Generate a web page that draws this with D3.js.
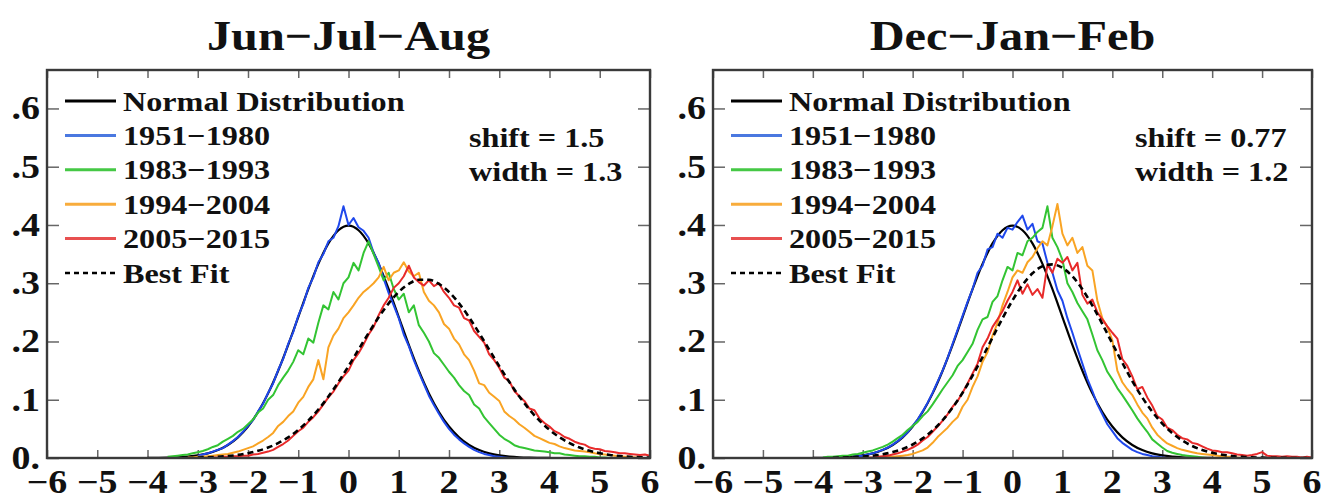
<!DOCTYPE html>
<html><head><meta charset="utf-8">
<script src="https://cdn.jsdelivr.net/npm/d3@7"></script>
<style>body{margin:0;background:#fff}svg{display:block}</style>
</head><body>
<svg id="c" width="1325" height="500"></svg>
<script>
// ---------- DATA ----------
const panelTitles = ["Jun\u2212Jul\u2212Aug", "Dec\u2212Jan\u2212Feb"];
const legendNames = ["Normal Distribution", "1951\u22121980", "1983\u22121993", "1994\u22122004", "2005\u22122015", "Best Fit"];
const shiftValues = ["1.5", "0.77"];
const widthValues = ["1.3", "1.2"];
const xTicks = [-6,-5,-4,-3,-2,-1,0,1,2,3,4,5,6];
const xTickLabels = ["\u22126","\u22125","\u22124","\u22123","\u22122","\u22121","0","1","2","3","4","5","6"];
const yTicks = [0, 0.1, 0.2, 0.3, 0.4, 0.5, 0.6];
const yTickLabels = ["0.", ".1", ".2", ".3", ".4", ".5", ".6"];

const smoothStep = 0.2;   // grid of smooth curves
const noisyStep = 0.1;    // grid of histogram curves

const normalStart = -4.0;
const normalVals = [.0001,.0003,.0006,.0012,.0024,.0044,.0079,.0136,.0224,.0355,.0540,.0790,.1109,.1497,.1942,.2420,.2897,.3332,.3683,.3910,.3989,
  .3910,.3683,.3332,.2897,.2420,.1942,.1497,.1109,.0790,.0540,.0355,.0224,.0136,.0079,.0044,.0024,.0012,.0006,.0003,.0001];

const jjaFitStart = -3.0;
const jjaFitVals = [.0008,.0013,.0021,.0034,.0053,.0082,.0123,.0179,.0255,.0355,.0483,.0642,.0832,.1054,.1305,.1577,.1861,.2145,.2415,.2654,.2850,.2988,.3059,
  .3059,.2988,.2850,.2654,.2415,.2145,.1861,.1577,.1305,.1054,.0832,.0642,.0483,.0355,.0255,.0179,.0123,.0082,.0053,.0034,.0021,.0013,.0008];

const djfFitStart = -3.6;
const djfFitVals = [.0004,.0008,.0014,.0024,.0040,.0064,.0101,.0155,.0232,.0336,.0473,.0648,.0864,.1120,.1413,.1732,.2067,.2398,.2705,
  .2970,.3170,.3291,.3323,.3264,.3118,.2897,.2617,.2300,.1966,.1634,.1321,.1039,.0795,.0591,.0428,.0301,.0206,.0137,.0089,
  .0056,.0034,.0020,.0012,.0007,.0004,.0002,.0001,.0001,.0000];

const jjaBlueStart = -3.0;
const jjaBlue = [.004,.006,.008,.011,.014,.017,.023,.029,.036,.045,.055,.065,.080,.093,.112,.128,.151,.170,.196,.216,.244,.264,.292,.310,.336,.350,.372,.378,.398,
  .432,.400,.412,.396,.390,.378,.352,.335,.308,.283,.262,.240,.212,.192,.168,.147,.127,.107,.091,.076,.062,.050,.040,.032,.025,.019,.014,.010,.007,.005,.003,.002,.001,.000];

const jjaGreenStart = -3.6;
const jjaGreen = [.002,.003,.004,.005,.006,.008,.010,.012,.015,.019,.022,.028,.033,.038,.045,.050,.058,.066,.078,.085,.100,.108,.125,.138,.150,.165,.185,.178,.205,.198,
  .232,.262,.255,.285,.272,.300,.310,.335,.322,.352,.372,.350,.328,.305,.318,.290,.272,.282,.250,.262,.228,.215,.200,.180,.172,.160,.148,.138,.125,.115,
  .108,.092,.085,.070,.060,.050,.040,.033,.028,.022,.019,.017,.015,.013,.012,.011,.010,.008,.008,.006,.005,.004,.003,.003,.002,.002,.001,.001,.000];

const jjaOrangeStart = -3.2;
const jjaOrange = [.001,.001,.002,.002,.003,.004,.005,.006,.007,.009,.011,.014,.017,.020,.025,.030,.036,.043,.055,.062,.072,.080,.095,.105,.122,.135,.168,.135,.190,.210,
  .222,.240,.250,.262,.275,.285,.292,.300,.310,.328,.305,.318,.322,.336,.320,.312,.318,.285,.270,.262,.250,.230,.222,.205,.195,.178,.168,.150,.128,.125,
  .112,.105,.098,.080,.072,.066,.058,.052,.045,.038,.034,.030,.026,.024,.020,.017,.015,.013,.012,.011,.010,.008,.007,.006,.005,.004,.003,.002,.002,.001,.001];

const jjaRedStart = -2.8;
const jjaRed = [.000,.001,.001,.002,.002,.003,.003,.004,.004,.006,.007,.009,.011,.014,.019,.024,.030,.038,.046,.052,.062,.070,.080,.092,.104,.114,.128,.140,.150,.168,
  .180,.195,.212,.225,.245,.262,.275,.292,.300,.312,.330,.310,.302,.296,.305,.295,.300,.285,.275,.262,.258,.240,.236,.218,.208,.198,.178,.168,.155,.138,
  .132,.115,.106,.098,.085,.082,.068,.060,.054,.046,.042,.036,.033,.028,.025,.023,.018,.016,.015,.012,.011,.010,.008,.008,.007,.006,.005,.006,.004];

const djfBlueStart = -3.2;
const djfBlue = [.002,.003,.004,.006,.008,.011,.014,.018,.023,.029,.036,.044,.055,.066,.080,.095,.112,.131,.150,.172,.196,.220,.244,.268,.290,.318,.330,.358,.362,.385,
  .378,.395,.392,.405,.416,.392,.402,.372,.368,.335,.318,.288,.270,.240,.215,.188,.162,.136,.115,.092,.075,.058,.046,.034,.026,.020,.014,.010,.007,.005,
  .003,.002,.001,.000,.000];

const djfGreenStart = -3.8;
const djfGreen = [.001,.002,.002,.003,.004,.004,.006,.007,.009,.011,.013,.016,.019,.023,.028,.034,.040,.048,.055,.062,.072,.080,.092,.105,.118,.130,.142,.158,.168,.182,
  .196,.220,.238,.242,.268,.278,.305,.328,.322,.352,.348,.372,.378,.388,.395,.432,.378,.362,.340,.300,.285,.266,.252,.238,.212,.185,.168,.148,.135,.120,
  .108,.095,.082,.068,.056,.045,.032,.025,.018,.012,.009,.007,.005,.004,.003,.002,.001,.000];

const djfOrangeStart = -2.8;
const djfOrange = [.000,.001,.001,.002,.002,.003,.004,.005,.007,.010,.013,.018,.026,.036,.044,.052,.062,.070,.088,.100,.122,.140,.165,.182,.210,.232,.262,.285,.310,.322,
  .318,.336,.345,.360,.372,.365,.398,.436,.385,.365,.378,.352,.362,.330,.322,.270,.240,.225,.202,.150,.130,.118,.108,.092,.078,.068,.052,.040,.032,.025,
  .021,.017,.014,.012,.010,.008,.007,.006,.005,.004,.003,.002,.002,.001,.000];

const djfRedStart = -3.0;
const djfRed = [.000,.001,.001,.002,.003,.004,.006,.008,.011,.014,.018,.023,.030,.036,.045,.054,.064,.075,.088,.098,.112,.128,.145,.162,.190,.205,.225,.238,.252,.270,
  .285,.305,.282,.298,.280,.290,.275,.332,.318,.342,.335,.345,.322,.335,.280,.265,.272,.250,.238,.226,.215,.205,.170,.158,.140,.118,.122,.104,.090,.072,
  .066,.052,.048,.040,.034,.032,.026,.024,.020,.016,.013,.012,.010,.010,.008,.006,.005,.004,.005,.007,.010,.004,.003,.003,.002,.003,.002,.002,.001,.002,.001];

// ---------- LAYOUT / STYLE ----------
const colors = { normal: "#000000", blue: "#1f48ec", green: "#33c433", orange: "#f9a424", red: "#e82a2a", fit: "#000000" };
const legendColors = ["#000000", "#4a78e0", "#45c845", "#f8ac3c", "#e85050", "#000000"];
const FONT = "'Liberation Serif','Times New Roman',Times,serif";
const SX = 1.15; // horizontal stretch of the reference text
const plotTop = 70, plotBottom = 458;
const panels = [
  { x0: 47, x1: 650, title: panelTitles[0], shift: shiftValues[0], width: widthValues[0],
    blue: [jjaBlueStart, jjaBlue], green: [jjaGreenStart, jjaGreen], orange: [jjaOrangeStart, jjaOrange], red: [jjaRedStart, jjaRed],
    fit: [jjaFitStart, jjaFitVals] },
  { x0: 713, x1: 1312, title: panelTitles[1], shift: shiftValues[1], width: widthValues[1],
    blue: [djfBlueStart, djfBlue], green: [djfGreenStart, djfGreen], orange: [djfOrangeStart, djfOrange], red: [djfRedStart, djfRed],
    fit: [djfFitStart, djfFitVals] }
];

const svg = d3.select("#c");
const y = d3.scaleLinear().domain([0, 0.666]).range([plotBottom, plotTop]);

function toPts(start, vals, step) { return vals.map((v, i) => [start + i * step, v]); }

function addText(g, x, yy, str, size, anchor) {
  return g.append("text")
    .attr("transform", `translate(${x},${yy}) scale(${SX},1)`)
    .attr("text-anchor", anchor || "start")
    .attr("font-family", FONT).attr("font-weight", "bold")
    .attr("font-size", size).attr("fill", "#111")
    .text(str);
}

panels.forEach((p, pi) => {
  const x = d3.scaleLinear().domain([-6, 6]).range([p.x0, p.x1]);
  const g = svg.append("g");
  const clipId = "clip" + pi;
  svg.append("clipPath").attr("id", clipId).append("rect")
    .attr("x", p.x0).attr("y", plotTop).attr("width", p.x1 - p.x0).attr("height", plotBottom - plotTop + 1);

  // ticks (inward) on all four sides
  const tickStyle = sel => { sel.select(".domain").remove(); sel.selectAll("line").attr("stroke", "#666").attr("stroke-width", 1.5); sel.selectAll("text").remove(); };
  g.append("g").attr("transform", `translate(0,${plotBottom})`).call(d3.axisBottom(x).tickValues(xTicks).tickSize(-8).tickFormat("")).call(tickStyle);
  g.append("g").attr("transform", `translate(0,${plotTop})`).call(d3.axisTop(x).tickValues(xTicks).tickSize(-8).tickFormat("")).call(tickStyle);
  g.append("g").attr("transform", `translate(${p.x0},0)`).call(d3.axisLeft(y).tickValues(yTicks).tickSize(-12).tickFormat("")).call(tickStyle);
  g.append("g").attr("transform", `translate(${p.x1},0)`).call(d3.axisRight(y).tickValues(yTicks).tickSize(-12).tickFormat("")).call(tickStyle);

  // curves
  const lineSmooth = d3.line().x(d => x(d[0])).y(d => y(d[1])).curve(d3.curveMonotoneX);
  const lineRaw = d3.line().x(d => x(d[0])).y(d => y(d[1]));
  const cg = g.append("g").attr("clip-path", `url(#${clipId})`).attr("fill", "none").attr("stroke-linejoin", "round");
  cg.append("path").attr("d", lineSmooth(toPts(normalStart, normalVals, smoothStep))).attr("stroke", colors.normal).attr("stroke-width", 2.2);
  [["blue", p.blue], ["green", p.green], ["orange", p.orange], ["red", p.red]].forEach(([c, s]) => {
    cg.append("path").attr("d", lineRaw(toPts(s[0], s[1], noisyStep))).attr("stroke", colors[c]).attr("stroke-width", 2);
  });
  cg.append("path").attr("d", lineSmooth(toPts(p.fit[0], p.fit[1], smoothStep))).attr("stroke", colors.fit)
    .attr("stroke-width", 2.6).attr("stroke-dasharray", "6,4");

  // frame
  g.append("rect").attr("x", p.x0).attr("y", plotTop).attr("width", p.x1 - p.x0).attr("height", plotBottom - plotTop)
    .attr("fill", "none").attr("stroke", "#3a3a3a").attr("stroke-width", 2.4);

  // tick labels
  xTicks.forEach((t, i) => addText(g, x(t), 492.5, xTickLabels[i], 33, "middle"));
  yTicks.forEach((t, i) => addText(g, p.x0 - 7, y(t) + 11, yTickLabels[i], 33, "end"));

  // title
  addText(g, (p.x0 + p.x1) / 2, 50, p.title, 42, "middle");

  // legend
  legendNames.forEach((name, i) => {
    const ry = 101 + i * 34.4;
    g.append("line").attr("x1", p.x0 + 18).attr("x2", p.x0 + 69).attr("y1", ry).attr("y2", ry)
      .attr("stroke", legendColors[i]).attr("stroke-width", i === 5 ? 2.4 : 3)
      .attr("stroke-dasharray", i === 5 ? "5,4" : null);
    addText(g, p.x0 + 76, ry + 9.5, name, 28, "start");
  });

  // annotation
  addText(g, p.x0 + 422, 137 + 9.5, "shift = " + p.shift, 28, "start");
  addText(g, p.x0 + 422, 171 + 9.5, "width = " + p.width, 28, "start");
});
</script>
</body></html>
